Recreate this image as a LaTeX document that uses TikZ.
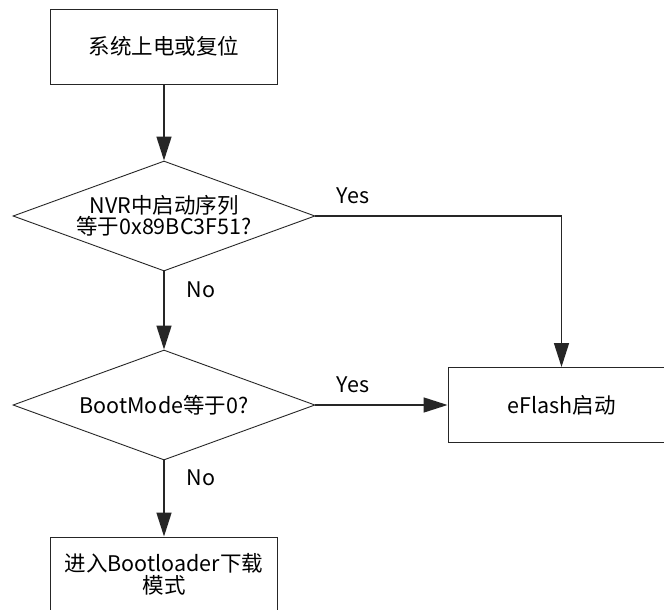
\documentclass[tikz,border=0pt]{standalone}
\usepackage{fontspec}
\setmainfont{Noto Sans CJK SC}
\usetikzlibrary{shapes.geometric,arrows.meta,positioning}

\begin{document}
\begin{tikzpicture}[x=1pt,y=-1pt,
    every node/.style={font=\fontsize{21.5}{21.5}\selectfont},
    cell/.style={rectangle, draw=black!85, line width=0.9pt, minimum width=227pt, minimum height=75pt, align=center, inner sep=0pt},
    test/.style={diamond, draw=black!85, line width=0.9pt, aspect=2.75, minimum width=302pt, minimum height=110pt, align=center, inner sep=0pt},
    arrow/.style={-{Triangle[length=24pt,width=15pt]}, line width=1.4pt, draw=black!85}
]
\path[use as bounding box, clip] (0,0) rectangle (664,610);

\node[cell] (reset) at (164,46.5) {系统上电或复位};
\node[test] (nvr) at (164,216) {NVR中启动序列\\等于0x89BC3F51?};
\node[test] (mode) at (164,405) {BootMode等于0?};
\node[cell] (eflash) at (561.5,405) {eFlash启动};
\node[cell] (boot) at (164,574.5) {进入Bootloader下载\\模式};

\draw[arrow] (reset) -- (nvr);
\draw[arrow] (nvr) -- (mode);
\draw[arrow] (mode) -- (boot);
\draw[arrow] (mode) -- (eflash);
\draw[arrow] (nvr.east) -| (eflash);

% branch labels
\node (yes1) at (353,196) {Yes};
\node (yes2) at (353,385) {Yes};
\node (no1) at (201,290) {No};
\node (no2) at (201,478) {No};
\end{tikzpicture}
\end{document}
